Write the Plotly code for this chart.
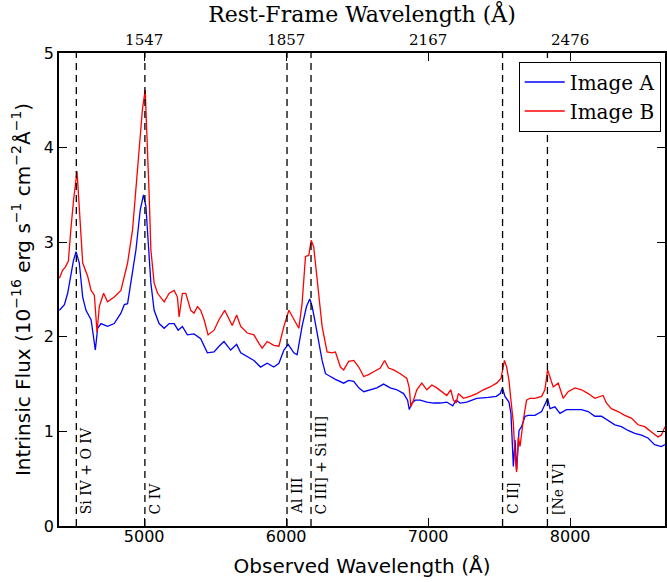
import plotly.graph_objects as go

# ---------------- data ----------------
wave_B = [4403, 4424, 4445, 4466, 4485, 4503, 4527, 4536, 4550, 4567, 4602, 4626, 4649, 4668,
          4684, 4714, 4742, 4789, 4836, 4860, 4883, 4918, 4942, 4965, 4988, 5007, 5021, 5035,
          5047, 5070, 5094, 5141, 5176, 5211, 5234, 5246, 5269, 5293, 5328, 5351, 5375, 5398,
          5422, 5450, 5492, 5527, 5567, 5597, 5620, 5651, 5680, 5726, 5773, 5808, 5831, 5866,
          5913, 5949, 5984, 6019, 6054, 6089, 6112, 6136, 6159, 6176, 6194, 6218, 6253, 6288,
          6323, 6347, 6382, 6405, 6440, 6476, 6511, 6546, 6581, 6616, 6663, 6693, 6721, 6757,
          6804, 6850, 6867, 6878, 6897, 6920, 6955, 6991, 7026, 7061, 7096, 7131, 7159, 7178,
          7197, 7213, 7248, 7295, 7342, 7389, 7436, 7482, 7513, 7537, 7553, 7569, 7583, 7600,
          7612, 7623, 7635, 7647, 7670, 7693, 7717, 7752, 7799, 7822, 7841, 7858, 7881, 7916,
          7951, 7986, 8033, 8080, 8127, 8174, 8232, 8255, 8290, 8337, 8384, 8431, 8478, 8525,
          8571, 8618, 8642, 8668]
flux_B = [2.62, 2.70, 2.74, 2.80, 3.16, 3.45, 3.75, 3.55, 3.27, 2.78, 2.64, 2.49, 2.44, 2.05,
          2.32, 2.46, 2.37, 2.42, 2.49, 2.64, 2.78, 3.13, 3.55, 3.97, 4.41, 4.61, 4.10, 3.50,
          2.92, 2.57, 2.46, 2.37, 2.46, 2.49, 2.42, 2.21, 2.46, 2.46, 2.28, 2.25, 2.32, 2.28,
          2.18, 2.02, 2.07, 2.18, 2.28, 2.18, 2.12, 2.23, 2.11, 2.04, 2.02, 1.93, 1.88, 1.95,
          1.91, 1.90, 2.11, 2.28, 2.18, 2.09, 2.35, 2.85, 2.86, 3.02, 2.95, 2.60, 2.11, 1.84,
          1.83, 1.84, 1.68, 1.65, 1.74, 1.75, 1.68, 1.58, 1.60, 1.63, 1.67, 1.75, 1.67, 1.65,
          1.61, 1.56, 1.46, 1.26, 1.33, 1.44, 1.51, 1.44, 1.49, 1.46, 1.42, 1.38, 1.44, 1.33,
          1.30, 1.40, 1.35, 1.37, 1.40, 1.44, 1.47, 1.51, 1.56, 1.75, 1.68, 1.54, 1.33, 1.09,
          0.73, 0.57, 0.94, 0.84, 1.12, 1.33, 1.35, 1.35, 1.37, 1.44, 1.65, 1.58, 1.47, 1.51,
          1.35, 1.42, 1.46, 1.44, 1.40, 1.35, 1.38, 1.30, 1.24, 1.21, 1.17, 1.14, 1.07, 1.05,
          1.00, 0.94, 0.96, 1.05]

wave_A = [4403, 4438, 4461, 4485, 4501, 4520, 4543, 4567, 4590, 4626, 4644, 4656, 4672, 4696,
          4742, 4789, 4836, 4860, 4883, 4907, 4942, 4972, 4988, 4995, 5012, 5028, 5047, 5070,
          5105, 5141, 5176, 5211, 5239, 5269, 5304, 5351, 5398, 5445, 5492, 5527, 5562, 5609,
          5651, 5680, 5726, 5773, 5820, 5866, 5913, 5949, 5984, 6014, 6054, 6077, 6112, 6143,
          6166, 6183, 6206, 6230, 6253, 6277, 6312, 6347, 6405, 6440, 6476, 6511, 6546, 6593,
          6639, 6686, 6733, 6780, 6827, 6855, 6867, 6885, 6909, 6944, 6991, 7038, 7085, 7131,
          7173, 7197, 7225, 7272, 7342, 7424, 7480, 7508, 7523, 7541, 7569, 7583, 7593, 7600,
          7612, 7623, 7640, 7658, 7682, 7705, 7752, 7799, 7827, 7841, 7858, 7893, 7928, 7974,
          8033, 8080, 8127, 8174, 8220, 8267, 8315, 8361, 8408, 8455, 8502, 8548, 8595, 8642,
          8668]
flux_A = [2.28, 2.34, 2.46, 2.64, 2.80, 2.90, 2.78, 2.42, 2.28, 2.18, 2.00, 1.86, 2.09, 2.14,
          2.11, 2.14, 2.25, 2.34, 2.35, 2.57, 2.92, 3.34, 3.48, 3.50, 3.38, 2.99, 2.57, 2.28,
          2.14, 2.09, 2.14, 2.14, 2.07, 2.11, 2.02, 2.03, 1.98, 1.83, 1.84, 1.90, 1.95, 1.86,
          1.92, 1.83, 1.79, 1.75, 1.68, 1.72, 1.68, 1.72, 1.86, 1.92, 1.83, 1.81, 2.11, 2.32,
          2.40, 2.32, 2.14, 1.93, 1.75, 1.61, 1.58, 1.55, 1.51, 1.54, 1.53, 1.46, 1.42, 1.44,
          1.46, 1.50, 1.46, 1.44, 1.40, 1.33, 1.23, 1.30, 1.33, 1.33, 1.31, 1.30, 1.30, 1.31,
          1.27, 1.33, 1.30, 1.31, 1.35, 1.36, 1.37, 1.40, 1.46, 1.37, 1.31, 1.19, 0.91, 0.63,
          0.91, 0.59, 1.01, 1.05, 1.16, 1.17, 1.17, 1.21, 1.30, 1.35, 1.24, 1.26, 1.19, 1.23,
          1.23, 1.23, 1.21, 1.16, 1.16, 1.12, 1.07, 1.05, 1.01, 0.98, 0.96, 0.93, 0.86, 0.84,
          0.86]

line_waves = [4522, 5005, 6006, 6175, 7524, 7840]
line_names = ["Si IV + O IV", "C IV", "Al III", "C III] + Si III]", "C II]", "[Ne IV]"]

bottom_ticks = [5000, 6000, 7000, 8000]
top_tick_pos = [5000, 6000, 7000, 8000]
top_tick_labels = ["1547", "1857", "2167", "2476"]
y_ticks = [0, 1, 2, 3, 4, 5]

x_range = [4400, 8668]
y_range = [0, 5]

SANS = "DejaVu Sans"
SERIF = "DejaVu Serif"

fig = go.Figure()
fig.add_trace(go.Scatter(x=wave_A, y=flux_A, mode="lines", name="Image A",
                         line=dict(color="#0000ff", width=1.3)))
fig.add_trace(go.Scatter(x=wave_B, y=flux_B, mode="lines", name="Image B",
                         line=dict(color="#ff0000", width=1.3)))
# invisible trace to activate the top axis
fig.add_trace(go.Scatter(x=[x_range[0]], y=[0], xaxis="x2", mode="markers",
                         marker=dict(opacity=0), showlegend=False, hoverinfo="skip"))

for w, name in zip(line_waves, line_names):
    fig.add_shape(type="line", x0=w, x1=w, y0=y_range[0], y1=y_range[1], xref="x", yref="y",
                  line=dict(color="black", width=1.3, dash="7px,5px"), layer="above")
    fig.add_annotation(x=w, y=0.10, xref="x", yref="y", text=name, textangle=-90,
                       showarrow=False, xanchor="left", yanchor="bottom", xshift=0,
                       font=dict(family=SERIF, size=14, color="black"))

fig.update_layout(
    width=667, height=582,
    margin=dict(l=59, r=0, t=53, b=56),
    paper_bgcolor="white", plot_bgcolor="white",
    showlegend=True,
    legend=dict(x=0.993, y=0.982, xanchor="right", yanchor="top",
                bgcolor="white", bordercolor="black", borderwidth=1,
                font=dict(family=SERIF, size=20, color="black"),
                itemwidth=40, tracegroupgap=0),
    xaxis=dict(range=x_range, tickvals=bottom_ticks, ticks="inside", ticklen=8,
               tickwidth=1.2, tickcolor="black", showline=True, linecolor="black",
               linewidth=1.8, showgrid=False, zeroline=False, ticklabelstandoff=-5,
               tickfont=dict(family=SANS, size=16, color="black"),
               title=dict(text="Observed Wavelength (Å)", standoff=14,
                          font=dict(family=SANS, size=20, color="black"))),
    xaxis2=dict(range=x_range, overlaying="x", side="top", anchor="y",
                tickvals=top_tick_pos, ticktext=top_tick_labels, ticks="inside", ticklen=8,
                tickwidth=1.2, tickcolor="black", showline=True, linecolor="black",
                linewidth=1.8, showgrid=False, zeroline=False,
                tickfont=dict(family=SERIF, size=15, color="black"),
                title=dict(text="Rest-Frame Wavelength (Å)", standoff=2,
                           font=dict(family=SERIF, size=22, color="black"))),
    yaxis=dict(range=y_range, tickvals=y_ticks, ticks="inside", ticklen=8,
               tickwidth=1.2, tickcolor="black", showline=True, linecolor="black",
               linewidth=1.8, mirror="ticks", showgrid=False, zeroline=False,
               tickfont=dict(family=SANS, size=16, color="black"),
               title=dict(text="Intrinsic Flux (10<sup>−16</sup> erg s<sup>−1</sup> cm<sup>−2</sup>Å<sup>−1</sup>)",
                          standoff=8, font=dict(family=SANS, size=20, color="black"))),
)

fig.write_html("out.html")
